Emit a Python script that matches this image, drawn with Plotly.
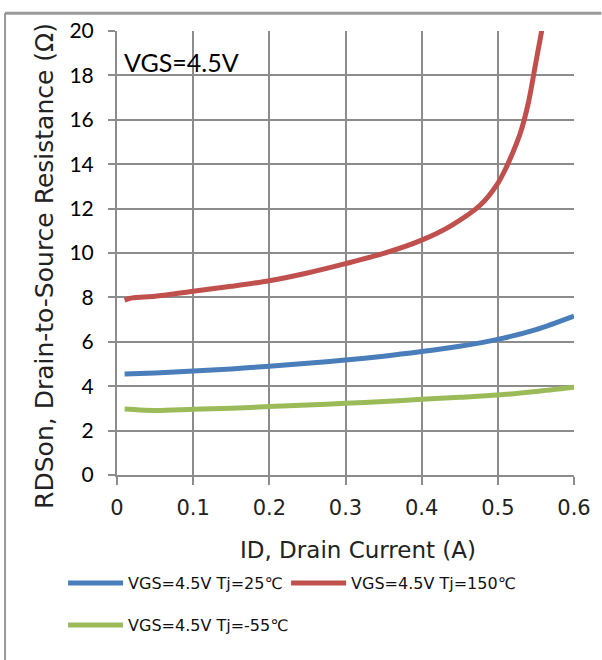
import plotly.graph_objects as go

# Data
id_blue = [0.01, 0.05, 0.1, 0.15, 0.2, 0.25, 0.3, 0.35, 0.4, 0.45, 0.5, 0.55, 0.6]
r_blue = [4.55, 4.6, 4.68, 4.78, 4.9, 5.03, 5.18, 5.35, 5.56, 5.8, 6.11, 6.55, 7.16]

id_red = [0.01, 0.02, 0.05, 0.1, 0.15, 0.2, 0.25, 0.3, 0.35, 0.4, 0.44, 0.477, 0.5,
          0.51, 0.52, 0.53, 0.54, 0.55, 0.5575, 0.562]
r_red = [7.88, 7.98, 8.05, 8.28, 8.5, 8.75, 9.1, 9.52, 9.98, 10.58, 11.26, 12.16, 13.14,
         13.78, 14.55, 15.45, 16.75, 18.6, 20.0, 21.0]

id_green = [0.01, 0.03, 0.052, 0.1, 0.15, 0.2, 0.25, 0.3, 0.35, 0.4, 0.45, 0.5, 0.55, 0.6]
r_green = [2.97, 2.93, 2.91, 2.96, 3.01, 3.08, 3.15, 3.23, 3.31, 3.41, 3.5, 3.6, 3.76, 3.95]

x_ticks = [0, 0.1, 0.2, 0.3, 0.4, 0.5, 0.6]
x_tick_text = ["0", "0.1", "0.2", "0.3", "0.4", "0.5", "0.6"]
y_ticks = [0, 2, 4, 6, 8, 10, 12, 14, 16, 18, 20]

names = ["VGS=4.5V Tj=25℃", "VGS=4.5V Tj=150℃", "VGS=4.5V Tj=-55℃"]
colors = ["#4A7EBB", "#C0504D", "#9BBB59"]

fig = go.Figure()
for xs, ys, name, col, lg in [(id_blue, r_blue, names[0], colors[0], "legend"),
                              (id_red, r_red, names[1], colors[1], "legend3"),
                              (id_green, r_green, names[2], colors[2], "legend2")]:
    fig.add_trace(go.Scatter(x=xs, y=ys, mode="lines", name=name, legend=lg,
                             line=dict(color=col, width=5, shape="spline", smoothing=0.8)))

grid_col = "#8C8C8C"
thin_font = "DejaVu Sans"
cal_font = "Lato"

legend_common = dict(orientation="h", xanchor="left", yanchor="top",
                     font=dict(family=thin_font, size=16, color="#111"),
                     itemwidth=55, bgcolor="rgba(0,0,0,0)")

fig.update_layout(
    width=602, height=660,
    margin=dict(l=117, r=28, t=31, b=185),
    paper_bgcolor="white", plot_bgcolor="white",
    showlegend=True,
    legend=dict(x=-0.118, y=-0.205, **legend_common),
    legend3=dict(x=0.37, y=-0.205, **legend_common),
    legend2=dict(x=-0.118, y=-0.2996, **legend_common),
    xaxis=dict(range=[0, 0.6], tickvals=x_ticks, ticktext=x_tick_text,
               showgrid=True, gridcolor=grid_col, gridwidth=2,
               showline=True, linecolor=grid_col, linewidth=2,
               ticks="outside", ticklen=8, tickwidth=2, tickcolor=grid_col,
               ticklabelstandoff=5,
               tickfont=dict(family=thin_font, size=21, color="#222"),
               zeroline=False, mirror=False, fixedrange=True),
    yaxis=dict(range=[0, 20], tickvals=y_ticks,
               showgrid=True, gridcolor=grid_col, gridwidth=2,
               showline=True, linecolor=grid_col, linewidth=2,
               ticks="outside", ticklen=7, tickwidth=2, tickcolor=grid_col,
               ticklabelstandoff=10,
               tickfont=dict(family=cal_font, size=21, color="#000"),
               zeroline=False, fixedrange=True),
    annotations=[
        dict(text="VGS=4.5V", x=0.011, y=0.93, xref="paper", yref="paper",
             xanchor="left", yanchor="middle", showarrow=False,
             font=dict(family=cal_font, size=25, color="#000")),
        dict(text="RDSon, Drain-to-Source Resistance (Ω)", x=-0.1575, y=0.471,
             xref="paper", yref="paper", textangle=-90, showarrow=False,
             xanchor="center", yanchor="middle",
             font=dict(family=thin_font, size=25, color="#222")),
        dict(text="ID, Drain Current (A)", x=0.527, y=-0.169, xref="paper", yref="paper",
             xanchor="center", yanchor="middle", showarrow=False,
             font=dict(family=thin_font, size=23, color="#222")),
    ],
    shapes=[
        dict(type="line", xref="paper", yref="paper", x0=-0.245, x1=1.06, y0=1.04, y1=1.04,
             line=dict(color="#999999", width=3), layer="above"),
        dict(type="line", xref="paper", yref="paper", x0=-0.245, x1=-0.245, y0=-0.45, y1=1.04,
             line=dict(color="#999999", width=2), layer="above"),
    ],
)

fig.write_html("out.html", config={"displayModeBar": False},
               post_script="document.body.style.margin='0';")
